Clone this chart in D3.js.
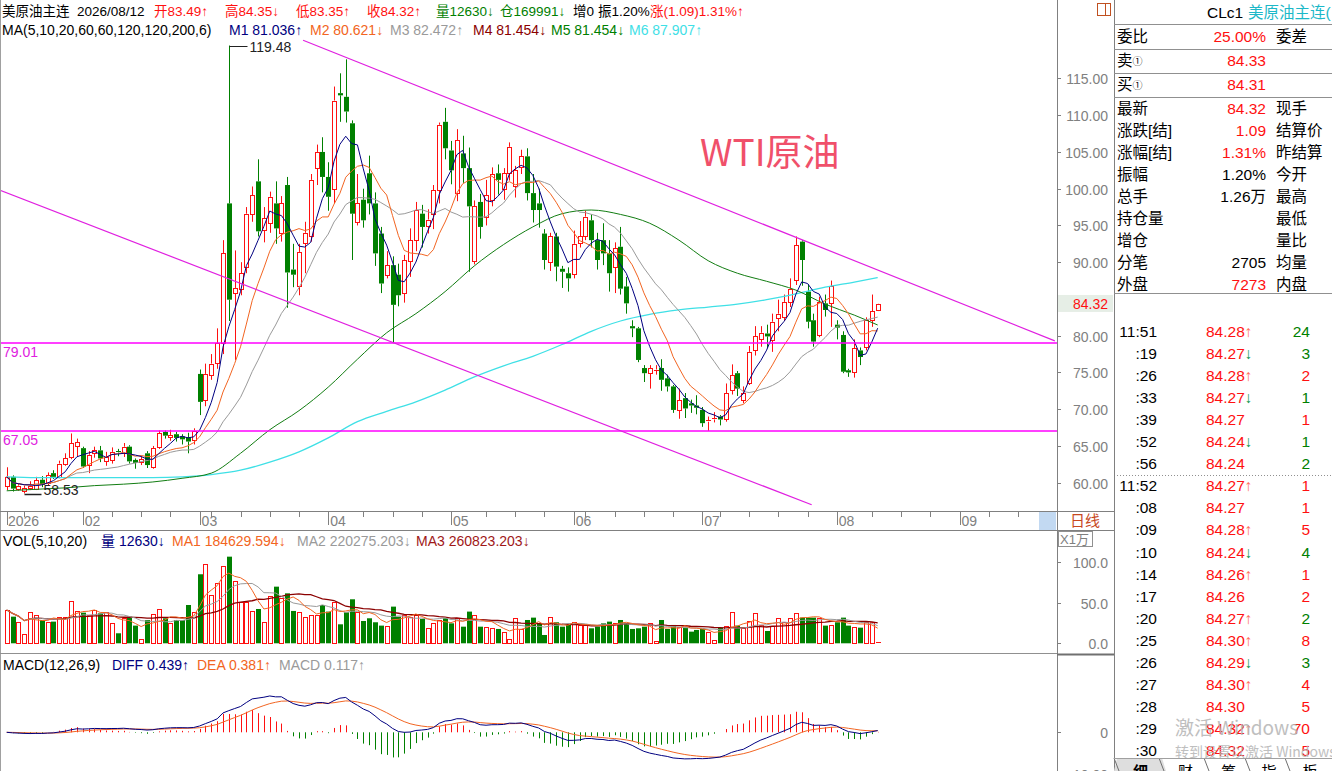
<!DOCTYPE html>
<html>
<head>
<meta charset="utf-8">
<script src="https://cdn.jsdelivr.net/npm/d3@7"></script>
<style>
    body {margin: 0; background: #fff; overflow: hidden;}
    svg {display: block; font-family: "Liberation Sans", "Noto Sans CJK SC", sans-serif;}
</style>
</head>
<body>
<div id="chart"></div>
<script>

// daily bars, mid Jan 2026 .. 2026/08/12
const opens = [
    59.5, 60.8, 59.2, 58.9, 59.3, 59.2, 60.4, 59.9, 61.3, 60.8,
    62.6, 63.5, 65.0, 64.7, 62.4, 64.0, 64.4, 62.9, 63.1, 64.3,
    64.0, 64.9, 63.1, 62.8, 64.0, 62.2, 64.9, 66.9, 66.2, 66.6,
    66.3, 66.2, 65.8, 74.8, 71.2, 74.7, 76.3, 79.0, 98.0, 85.8,
    86.4, 89.4, 96.6, 101.0, 94.4, 95.3, 98.0, 94.0, 100.5, 89.0,
    86.7, 92.6, 93.5, 102.8, 105.0, 101.6, 100.0, 113.0, 112.5, 108.9,
    95.5, 98.5, 102.1, 98.0, 93.9, 88.3, 89.6, 88.3, 85.8, 90.1,
    93.0, 96.6, 94.9, 96.6, 99.8, 109.1, 105.2, 99.4, 104.8, 102.8,
    90.1, 98.2, 96.2, 98.5, 102.1, 100.0, 102.1, 100.3, 103.0, 104.4,
    99.4, 98.0, 93.9, 90.0, 93.5, 89.1, 88.5, 88.4, 92.6, 93.5,
    95.7, 93.0, 93.0, 91.2, 89.3, 92.1, 86.7, 81.3, 81.0, 75.6,
    74.9, 75.2, 75.6, 74.2, 73.1, 69.9, 71.5, 70.8, 70.5, 69.9,
    68.3, 68.6, 69.0, 68.7, 72.6, 74.9, 71.3, 73.5, 78.0, 79.6,
    80.3, 79.4, 82.4, 82.6, 84.6, 87.6, 92.8, 86.0, 82.1, 80.1,
    84.4, 84.4, 81.5, 80.1, 75.3, 75.1, 78.0, 78.5, 82.1, 83.49
];
const highs = [
    62.1, 61.0, 59.9, 59.6, 60.2, 60.8, 60.9, 61.4, 61.7, 63.0,
    64.0, 66.7, 66.0, 64.9, 64.3, 64.9, 65.0, 64.2, 64.8, 64.6,
    65.4, 65.1, 63.3, 63.6, 64.3, 65.0, 67.1, 67.1, 67.2, 66.9,
    66.6, 66.8, 67.4, 75.4, 76.2, 77.5, 81.0, 93.0, 119.48, 91.6,
    90.0, 97.5, 100.3, 104.0, 97.5, 99.6, 101.0, 99.0, 101.6, 92.5,
    92.5, 95.5, 102.0, 106.0, 107.0, 103.6, 113.9, 115.7, 117.6, 109.3,
    102.0, 100.0, 104.5, 99.5, 94.8, 91.5, 90.8, 89.8, 91.0, 94.6,
    98.2, 97.8, 97.2, 100.5, 109.0, 111.0, 106.5, 108.1, 107.2, 105.6,
    98.4, 99.3, 101.2, 102.9, 103.3, 102.8, 106.3, 103.1, 105.3, 105.5,
    102.0, 100.0, 94.5, 94.0, 94.0, 89.5, 89.3, 94.3, 95.6, 97.0,
    96.5, 94.0, 95.3, 93.0, 92.7, 94.8, 88.0, 82.1, 81.2, 76.0,
    76.0, 76.0, 76.8, 74.7, 73.3, 72.8, 72.2, 71.3, 71.9, 70.3,
    69.0, 69.6, 69.2, 73.5, 76.1, 75.2, 73.1, 78.6, 81.3, 81.3,
    81.5, 83.0, 84.9, 85.6, 87.8, 93.5, 93.0, 87.0, 83.0, 85.3,
    85.6, 87.5, 82.1, 80.6, 75.5, 79.5, 78.4, 82.5, 85.6, 84.35
];
const lows = [
    59.0, 58.8, 58.9, 58.53, 59.0, 59.0, 59.4, 59.6, 60.5, 60.6,
    62.3, 63.2, 63.5, 62.0, 61.3, 63.4, 62.8, 62.3, 62.6, 63.6,
    63.5, 62.6, 61.9, 62.4, 62.0, 61.9, 64.6, 66.0, 65.7, 65.6,
    65.2, 64.0, 65.2, 69.2, 70.4, 74.0, 75.5, 77.5, 82.0, 76.7,
    85.5, 88.5, 95.5, 93.5, 92.7, 94.0, 92.5, 92.8, 83.8, 86.6,
    85.5, 88.5, 92.8, 100.5, 99.5, 97.0, 98.0, 109.1, 109.0, 90.3,
    95.0, 94.7, 96.5, 89.5, 85.8, 87.8, 79.0, 84.0, 84.5, 88.0,
    91.5, 92.0, 93.9, 94.5, 98.0, 104.0, 100.6, 98.3, 100.8, 88.7,
    89.7, 93.2, 95.0, 97.6, 99.2, 98.5, 101.1, 98.8, 102.0, 98.4,
    95.4, 94.7, 89.0, 88.8, 87.4, 86.5, 86.0, 87.8, 92.0, 93.0,
    92.0, 89.0, 89.6, 86.0, 85.8, 85.6, 83.0, 79.8, 76.4, 73.7,
    72.8, 74.7, 72.5, 72.4, 69.5, 68.7, 68.8, 69.5, 69.3, 67.6,
    67.05, 68.2, 67.8, 68.3, 72.0, 71.8, 70.8, 73.3, 77.3, 78.5,
    78.3, 77.8, 80.6, 82.0, 83.9, 86.9, 86.8, 81.0, 78.5, 79.8,
    82.6, 81.2, 79.5, 74.9, 74.4, 74.3, 76.0, 78.0, 81.2, 83.35
];
const closes = [
    60.8, 59.2, 59.6, 59.3, 59.6, 60.3, 59.7, 61.0, 60.8, 62.6,
    63.3, 65.4, 65.5, 62.2, 63.8, 64.4, 63.3, 63.5, 64.2, 64.1,
    64.9, 62.9, 62.7, 63.2, 62.4, 64.7, 66.7, 66.4, 66.5, 66.1,
    65.9, 65.6, 67.1, 71.0, 74.8, 76.2, 79.0, 91.2, 84.9, 86.5,
    88.5, 96.6, 99.1, 94.2, 96.0, 98.9, 94.6, 98.0, 88.6, 88.3,
    91.4, 94.0, 101.2, 105.0, 101.6, 98.9, 112.0, 112.7, 110.5, 96.6,
    98.0, 95.7, 98.0, 91.2, 87.1, 89.6, 84.2, 85.5, 90.3, 93.0,
    97.1, 94.8, 95.8, 99.8, 108.7, 105.5, 102.5, 106.6, 102.8, 97.6,
    97.6, 94.8, 99.1, 102.0, 101.2, 102.1, 105.7, 102.5, 104.4, 99.4,
    97.1, 97.1, 90.3, 93.5, 89.4, 88.7, 87.8, 92.5, 93.5, 96.2,
    93.0, 90.3, 91.2, 88.5, 91.9, 86.4, 84.4, 81.0, 76.7, 74.9,
    75.6, 75.4, 74.0, 73.1, 69.9, 71.2, 70.1, 70.5, 70.2, 68.1,
    68.5, 68.8, 68.6, 72.2, 74.6, 72.8, 72.2, 77.8, 79.9, 80.4,
    79.9, 81.9, 83.0, 84.6, 86.4, 92.3, 90.3, 81.9, 79.2, 84.6,
    83.5, 86.7, 81.1, 75.1, 75.0, 78.3, 77.1, 82.1, 83.3, 84.32
];
// volume in 万 (x10000)
const volumes = [
    40.9, 32.7, 26.6, 11.0, 38.9, 34.8, 28.6, 26.6, 26.6, 32.7,
    32.7, 52.0, 39.7, 37.6, 34.8, 40.5, 36.8, 38.9, 24.5, 12.3,
    30.7, 32.7, 21.7, 5.3, 28.6, 36.0, 42.1, 30.7, 24.5, 28.6,
    28.6, 47.0, 38.9, 84.7, 96.9, 59.3, 73.6, 94.9, 106.3, 76.5,
    51.1, 51.1, 39.7, 42.1, 26.6, 58.5, 69.5, 55.2, 61.3, 39.7,
    38.0, 32.7, 34.8, 34.8, 47.0, 38.9, 51.1, 23.3, 38.0, 54.0,
    38.9, 27.4, 30.7, 25.8, 21.7, 21.7, 45.0, 32.7, 34.8, 32.7,
    34.8, 29.9, 18.4, 24.5, 28.6, 30.7, 24.5, 30.7, 20.4, 38.9,
    34.8, 20.4, 20.4, 18.4, 17.6, 14.3, 5.3, 30.7, 17.6, 28.6,
    31.5, 24.5, 10.2, 31.9, 25.8, 20.4, 22.5, 26.6, 22.5, 22.5,
    18.4, 20.4, 24.5, 26.6, 24.5, 28.6, 24.5, 17.6, 18.4, 20.4,
    24.5, 2.9, 28.6, 17.6, 22.5, 20.4, 19.2, 14.3, 16.4, 17.6,
    14.3, 4.1, 19.2, 21.7, 38.9, 21.7, 18.4, 27.4, 36.8, 22.5,
    15.1, 21.7, 30.7, 26.6, 31.5, 36.8, 31.5, 31.5, 31.5, 30.7,
    21.7, 22.5, 25.8, 31.5, 21.7, 20.4, 19.2, 25.8, 25.8, 1.263
];

// month marks on the date axis (bar index of first day)
const monthIdx = [0, 13, 33, 55, 76, 97, 119, 142, 163];
const monthLabels = ["2026", "02", "03", "04", "05", "06", "07", "08", "09"];

// long averages (need history before the window)
const longIdx = [0, 5, 10, 15, 20, 25, 30, 35, 40, 45, 50, 55, 60, 65, 70, 75, 80, 85, 90, 95, 100, 105, 110, 115, 120, 125, 130, 135, 140, 145, 149];
const ma60Vals = [58.9, 59.1, 59.3, 59.6, 59.8, 60.1, 60.6, 61.3, 64.0, 67.2, 69.8, 73.0, 76.8, 80.4, 83.0, 86.0, 89.5, 92.4, 94.8, 96.6, 97.1, 96.5, 95.3, 93.0, 90.2, 88.5, 87.4, 86.2, 84.3, 82.8, 81.454];
const ma200Vals = [60.8, 60.7, 60.7, 60.7, 60.7, 60.7, 60.8, 61.1, 61.7, 62.8, 64.2, 66.1, 68.3, 69.7, 71.0, 72.6, 74.4, 75.9, 77.2, 78.8, 80.6, 82.0, 82.9, 83.5, 83.9, 84.3, 84.9, 85.7, 86.6, 87.3, 87.907];

// drawn lines: support levels and the two channel lines ([bar index, price])
const levels = [79.01, 67.05];
const trendLines = [
    [[50.7, 120.2], [179.3, 79.3]],
    [[-1.15, 99.8], [137.7, 57.0]]
];

const priceTicks = [60, 65, 70, 75, 80, 85, 90, 95, 100, 105, 110, 115];
const volTicks = [0, 50, 100];
const macdTicks = [0, -10];

// header texts
const headRow1 = ["美原油主连", "2026/08/12", "开83.49↑", "高84.35↓", "低83.35↑", "收84.32↑", "量12630↓", "仓169991↓", "增0", "振1.20%", "涨(1.09)1.31%↑"];
const headRow2 = ["MA(5,10,20,60,60,120,120,200,6)", "M1 81.036↑", "M2 80.621↓", "M3 82.472↑", "M4 81.454↓", "M5 81.454↓", "M6 87.907↑"];
const volHead = ["VOL(5,10,20)", "量 12630↓", "MA1 184629.594↓", "MA2 220275.203↓", "MA3 260823.203↓"];
const macdHead = ["MACD(12,26,9)", "DIFF 0.439↑", "DEA 0.381↑", "MACD 0.117↑"];

// quote panel
const quoteTop = [["委比", "25.00%", "委差"], ["卖", "84.33", ""], ["买", "84.31", ""]];
const quoteLabels = ["最新", "涨跌[结]", "涨幅[结]", "振幅", "总手", "持仓量", "增仓", "分笔", "外盘"];
const quoteValues = ["84.32", "1.09", "1.31%", "1.20%", "1.26万", "", "", "2705", "7273"];
const quoteValueUp = [1, 1, 1, 0, 0, 0, 0, 0, 1];
const quoteRight = ["现手", "结算价", "昨结算", "今开", "最高", "最低", "量比", "均量", "内盘"];

// tick-by-tick list
const tickTimes = ["11:51", ":19", ":26", ":33", ":39", ":52", ":56", "11:52", ":08", ":09", ":10", ":14", ":17", ":20", ":25", ":26", ":27", ":28", ":29", ":30"];
const tickPrices = ["84.28", "84.27", "84.28", "84.27", "84.27", "84.24", "84.24", "84.27", "84.27", "84.28", "84.24", "84.26", "84.26", "84.27", "84.30", "84.29", "84.30", "84.30", "84.32", "84.32"];
const tickArrows = ["↑", "↓", "↑", "↓", "", "↓", "", "↑", "", "↑", "↓", "↑", "", "↑", "↑", "↓", "↑", "", "↑", ""];
const tickVols = [24, 3, 2, 1, 1, 1, 2, 1, 1, 5, 4, 1, 2, 2, 8, 3, 4, 5, 70, 5];
const tickVolUp = [0, 0, 1, 0, 1, 0, 0, 1, 1, 1, 0, 1, 1, 0, 1, 0, 1, 1, 1, 1];
const tabs = ["细", "财", "筹", "指", "板"];

const RED = "#ff1010", GREEN = "#008000", NAVY = "#000080", ORANGE = "#f26522",
    GRAY = "#9a9a9a", DARKRED = "#8b0000", CYAN = "#3fe0e6", MAGENTA = "#ff00ff", AXIS = "#808080";

class KChart {

    constructor(parentElement) {
        this.parentElement = parentElement;
        this.initVis();
    }

    initVis() {
        let vis = this;
        vis.width = 1332;
        vis.height = 771;
        vis.axisLeft = 1057;
        vis.sideLeft = 1114;

        vis.svg = d3.select("#" + vis.parentElement).append("svg")
            .attr("width", vis.width)
            .attr("height", vis.height);

        //scales, one x for all three panels
        vis.x = d3.scaleLinear().domain([0, closes.length - 1]).range([6.7, 877.7]);
        vis.y = d3.scaleLinear().domain([60, 115]).range([482.7, 78.45]);
        vis.yVol = d3.scaleLinear().domain([0, 100]).range([643.3, 561.8]);
        vis.yMacd = d3.scaleLinear().domain([-10, 0]).range([774, 732.3]);

        vis.svg.append("clipPath").attr("id", "priceClip")
            .append("rect").attr("x", 1).attr("y", 0).attr("width", vis.axisLeft - 1).attr("height", 511);

        vis.wrangleData();
        vis.drawFrame();
        vis.drawPrice();
        vis.drawVolume();
        vis.drawMacd();
        vis.drawSide();
    }

    wrangleData() {
        let vis = this;
        const sma = (arr, n) => arr.map((d, i) => d3.mean(arr.slice(Math.max(0, i - n + 1), i + 1)));
        vis.ma5 = sma(closes, 5);
        vis.ma10 = sma(closes, 10);
        vis.ma20 = sma(closes, 20);
        vis.vma5 = sma(volumes, 5);
        vis.vma10 = sma(volumes, 10);
        vis.vma20 = sma(volumes, 20);

        //macd 12,26,9
        let e12 = closes[0], e26 = closes[0], dea = 0;
        vis.diff = []; vis.dea = []; vis.macd = [];
        closes.forEach(c => {
            e12 = e12 * 11 / 13 + c * 2 / 13;
            e26 = e26 * 25 / 27 + c * 2 / 27;
            let dif = e12 - e26;
            dea = dea * 8 / 10 + dif * 2 / 10;
            vis.diff.push(dif);
            vis.dea.push(dea);
            vis.macd.push(2 * (dif - dea));
        });
    }

    drawFrame() {
        let vis = this;
        let g = vis.svg.append("g").attr("class", "frame");
        g.append("line").attr("x1", 0.5).attr("x2", 0.5).attr("y1", 0).attr("y2", vis.height).attr("stroke", "#a0a0a0");
        g.append("line").attr("x1", vis.axisLeft + 0.5).attr("x2", vis.axisLeft + 0.5).attr("y1", 0).attr("y2", vis.height).attr("stroke", "#808080");
        g.append("line").attr("x1", vis.sideLeft + 0.5).attr("x2", vis.sideLeft + 0.5).attr("y1", 0).attr("y2", vis.height).attr("stroke", "#808080");
        [511.5, 530.5].forEach(yy => {
            g.append("line").attr("x1", 0).attr("x2", vis.sideLeft).attr("y1", yy).attr("y2", yy).attr("stroke", "#808080");
        });
        g.append("line").attr("x1", 0).attr("x2", vis.axisLeft).attr("y1", 653.5).attr("y2", 653.5).attr("stroke", "#909090");
        g.append("line").attr("x1", vis.axisLeft).attr("x2", vis.sideLeft).attr("y1", 654.5).attr("y2", 654.5).attr("stroke", "#707070").attr("stroke-width", 2);

        //date axis
        let ticks = [];
        monthIdx.forEach((m, k) => {
            ticks.push({i: m, long: true});
            let next = k < monthIdx.length - 1 ? monthIdx[k + 1] : m + 17;
            let prev = k > 0 ? monthIdx[k - 1] : -1;
            for (let t = m - 5; t > prev + 1 && t > 1; t -= 5) ticks.push({i: t, long: false});
            if (k === monthIdx.length - 1) for (let t = m + 5; t < next; t += 5) ticks.push({i: t, long: false});
        });
        g.selectAll(".dtick").data(ticks).join("line")
            .attr("x1", d => Math.round(vis.x(d.i)) + 0.5)
            .attr("x2", d => Math.round(vis.x(d.i)) + 0.5)
            .attr("y1", 511.5)
            .attr("y2", d => d.long ? 525 : 517)
            .attr("stroke", "#808080");
        g.selectAll(".dlabel").data(monthLabels).join("text")
            .attr("x", (d, k) => k === 0 ? 8 : vis.x(monthIdx[k]) + 2)
            .attr("y", 526)
            .attr("font-size", 14)
            .attr("fill", AXIS)
            .text(d => d);

        g.append("rect").attr("x", 1039).attr("y", 512).attr("width", 17).attr("height", 18).attr("fill", "#c2d9f2");
        g.append("text").attr("x", 1070).attr("y", 526).attr("font-size", 15).attr("fill", "#c8481e")
            .attr("font-family", "Noto Sans CJK SC").text("日线");
        g.append("rect").attr("x", 1058.5).attr("y", 531.5).attr("width", 34).attr("height", 15)
            .attr("fill", "none").attr("stroke", "#909090");
        g.append("text").attr("x", 1060).attr("y", 544).attr("font-size", 13).attr("fill", AXIS).text("X1万");

        //little icon top of axis column
        g.append("rect").attr("x", 1097.5).attr("y", 3.5).attr("width", 13).attr("height", 12).attr("fill", "none").attr("stroke", "#c05020");
        g.append("line").attr("x1", 1105.5).attr("x2", 1105.5).attr("y1", 3.5).attr("y2", 15.5).attr("stroke", "#c05020");

        //axis labels right side
        const axisLabels = (ticks, scale, fmt) => {
            ticks.forEach(t => {
                let yy = Math.round(scale(t)) + 0.5;
                g.append("line").attr("x1", vis.axisLeft).attr("x2", vis.axisLeft + 4).attr("y1", yy).attr("y2", yy).attr("stroke", "#808080");
                g.append("text").attr("x", 1108).attr("y", yy + 5).attr("text-anchor", "end")
                    .attr("font-size", 14).attr("fill", AXIS).text(fmt(t));
            });
        };
        axisLabels(priceTicks, vis.y, d3.format(".2f"));
        axisLabels(volTicks, vis.yVol, d3.format(".1f"));
        axisLabels(macdTicks, vis.yMacd, t => t === 0 ? "0" : d3.format(".2f")(t));

        //last price tag
        let ly = vis.y(closes[closes.length - 1]);
        g.append("rect").attr("x", 1058).attr("y", ly - 9).attr("width", 55).attr("height", 17).attr("fill", "#e6eee6");
        g.append("text").attr("x", 1108).attr("y", ly + 5).attr("text-anchor", "end")
            .attr("font-size", 14).attr("fill", RED).text(d3.format(".2f")(closes[closes.length - 1]));
    }

    drawCandles(g, scale, isVolume) {
        let vis = this;
        closes.forEach((c, i) => {
            let cx = Math.round(vis.x(i)) + 0.5;
            let up = c >= opens[i];
            let col = up ? RED : GREEN;
            let top, bot;
            if (isVolume) {
                top = scale(volumes[i]);
                bot = scale(0);
            } else {
                top = scale(Math.max(opens[i], c));
                bot = scale(Math.min(opens[i], c));
                g.append("line").attr("x1", cx).attr("x2", cx)
                    .attr("y1", scale(highs[i])).attr("y2", top).attr("stroke", col);
                g.append("line").attr("x1", cx).attr("x2", cx)
                    .attr("y1", bot).attr("y2", scale(lows[i])).attr("stroke", col);
            }
            if (bot - top < 1.5) {
                g.append("line").attr("x1", cx - 2.5).attr("x2", cx + 2.5)
                    .attr("y1", Math.round(top) + 0.5).attr("y2", Math.round(top) + 0.5).attr("stroke", col);
            } else if (up) {
                g.append("rect").attr("x", cx - 2).attr("y", Math.round(top) + 0.5)
                    .attr("width", 4).attr("height", Math.round(bot) - Math.round(top))
                    .attr("fill", "#fff").attr("stroke", col);
            } else {
                g.append("rect").attr("x", cx - 2.5).attr("y", top)
                    .attr("width", 5).attr("height", bot - top)
                    .attr("fill", col);
            }
        });
    }

    drawPrice() {
        let vis = this;
        let g = vis.svg.append("g").attr("class", "price").attr("clip-path", "url(#priceClip)");
        let line = d3.line().x((d, i) => vis.x(i)).y(d => vis.y(d));
        let sampled = d3.line().curve(d3.curveMonotoneX).x(d => vis.x(d[0])).y(d => vis.y(d[1]));

        vis.drawCandles(g, vis.y, false);

        g.append("path").attr("d", sampled(longIdx.map((d, k) => [d, ma200Vals[k]])))
            .attr("fill", "none").attr("stroke", CYAN).attr("stroke-width", 1.3);
        g.append("path").attr("d", sampled(longIdx.map((d, k) => [d, ma60Vals[k]])))
            .attr("fill", "none").attr("stroke", "#127d12").attr("stroke-width", 1);
        [[vis.ma20, GRAY], [vis.ma10, ORANGE], [vis.ma5, NAVY]].forEach(([arr, col]) => {
            g.append("path").attr("d", line(arr)).attr("fill", "none").attr("stroke", col).attr("stroke-width", 1);
        });

        //levels and channel
        levels.forEach(l => {
            let yy = Math.round(vis.y(l));
            g.append("path").attr("d", `M1,${yy}H${vis.axisLeft}`)
                .attr("stroke", MAGENTA).attr("stroke-width", 1.6).attr("fill", "none");
            g.append("text").attr("x", 3).attr("y", yy + 14).attr("font-size", 14)
                .attr("fill", "#e020e0").text(d3.format(".2f")(l));
        });
        trendLines.forEach(tl => {
            g.append("line")
                .attr("x1", vis.x(tl[0][0])).attr("y1", vis.y(tl[0][1]))
                .attr("x2", vis.x(tl[1][0])).attr("y2", vis.y(tl[1][1]))
                .attr("stroke", "#e020e0").attr("stroke-width", 1.2);
        });

        //high / low marks
        let hi = d3.maxIndex(highs), lo = d3.minIndex(lows);
        let hx = Math.round(vis.x(hi)) + 0.5, hy = Math.round(vis.y(highs[hi])) + 0.5;
        g.append("line").attr("x1", hx).attr("x2", hx + 18).attr("y1", hy).attr("y2", hy).attr("stroke", "#222");
        g.append("text").attr("x", hx + 20).attr("y", hy + 5).attr("font-size", 14).attr("fill", "#222").text(d3.format(".2f")(highs[hi]));
        let lx = Math.round(vis.x(lo)) + 0.5, lyy = Math.round(vis.y(lows[lo])) + 0.5;
        g.append("line").attr("x1", lx).attr("x2", lx + 17).attr("y1", lyy).attr("y2", lyy).attr("stroke", "#222").attr("stroke-width", 1.5);
        g.append("text").attr("x", lx + 19).attr("y", lyy + 0).attr("font-size", 14).attr("fill", "#222").text(d3.format(".2f")(lows[lo]));

        //title
        vis.svg.append("text").attr("x", 700).attr("y", 166).attr("font-size", 37)
            .attr("font-family", "Noto Sans CJK SC").attr("fill", "#f0506a").text("WTI原油");

        //header rows
        const row1X = [2, 77, 154, 225, 296, 367, 436, 500, 573, 598, 650];
        const row1C = ["#000", "#000", RED, RED, RED, RED, GREEN, GREEN, "#000", "#000", RED];
        vis.header(headRow1, row1X, row1C, 16, 13.5);
        const row2X = [2, 229, 310, 390, 473, 551, 629];
        const row2C = ["#000", NAVY, ORANGE, GRAY, DARKRED, GREEN, CYAN];
        vis.header(headRow2, row2X, row2C, 35);
    }

    header(texts, xs, cols, yy, size = 14) {
        let vis = this;
        vis.svg.append("g").selectAll("text").data(texts).join("text")
            .attr("x", (d, k) => xs[k]).attr("y", yy)
            .attr("font-size", size)
            .attr("fill", (d, k) => cols[k])
            .text(d => d);
    }

    drawVolume() {
        let vis = this;
        let g = vis.svg.append("g").attr("class", "volume");
        vis.drawCandles(g, vis.yVol, true);
        let line = d3.line().x((d, i) => vis.x(i)).y(d => vis.yVol(d));
        [[vis.vma20, DARKRED, 1.3], [vis.vma10, GRAY, 1], [vis.vma5, ORANGE, 1]].forEach(([arr, col, w]) => {
            g.append("path").attr("d", line(arr)).attr("fill", "none").attr("stroke", col).attr("stroke-width", w);
        });
        vis.header(volHead, [3, 101, 172, 297, 416], ["#000", NAVY, ORANGE, GRAY, "#a01818"], 546);
    }

    drawMacd() {
        let vis = this;
        let g = vis.svg.append("g").attr("class", "macd");
        let zero = vis.yMacd(0);
        vis.macd.forEach((m, i) => {
            let cx = Math.round(vis.x(i)) + 0.5;
            g.append("line").attr("x1", cx).attr("x2", cx)
                .attr("y1", zero).attr("y2", vis.yMacd(m))
                .attr("stroke", m >= 0 ? RED : GREEN);
        });
        let line = d3.line().x((d, i) => vis.x(i)).y(d => vis.yMacd(d));
        g.append("path").attr("d", line(vis.dea)).attr("fill", "none").attr("stroke", ORANGE);
        g.append("path").attr("d", line(vis.diff)).attr("fill", "none").attr("stroke", NAVY);
        vis.header(macdHead, [3, 112, 197, 279], ["#000", NAVY, ORANGE, GRAY], 670);
    }

    drawSide() {
        let vis = this;
        let g = vis.svg.append("g").attr("class", "side").attr("font-size", 15.5);
        let L = vis.sideLeft;
        [24.5, 49.5, 73.5, 97.5, 293.5].forEach(yy => {
            g.append("line").attr("x1", L).attr("x2", vis.width).attr("y1", yy).attr("y2", yy).attr("stroke", "#909090");
        });
        g.append("text").attr("x", 1207).attr("y", 18).attr("fill", "#000").text("CLc1");
        g.append("text").attr("x", 1248).attr("y", 18).attr("fill", "#1cb8c8").text("美原油主连(");

        quoteTop.forEach((r, k) => {
            let yy = [42, 66, 90][k];
            let t = g.append("text").attr("x", L + 3).attr("y", yy).attr("fill", "#000").text(r[0]);
            if (k > 0) t.append("tspan").attr("font-size", 10).attr("dy", -1).text("①");
            g.append("text").attr("x", 1266).attr("y", yy).attr("text-anchor", "end").attr("fill", RED).text(r[1]);
            g.append("text").attr("x", 1276).attr("y", yy).attr("fill", "#000").text(r[2]);
        });
        quoteLabels.forEach((lab, k) => {
            let yy = 113.5 + k * 22.1;
            g.append("text").attr("x", L + 3).attr("y", yy).attr("fill", "#000").text(lab);
            g.append("text").attr("x", 1266).attr("y", yy).attr("text-anchor", "end")
                .attr("fill", quoteValueUp[k] ? RED : "#000").text(quoteValues[k]);
            g.append("text").attr("x", 1276).attr("y", yy).attr("fill", "#000").text(quoteRight[k]);
        });

        //ticks list
        tickTimes.forEach((t, k) => {
            let yy = 337 + k * 22.05;
            g.append("text").attr("x", 1157).attr("y", yy).attr("text-anchor", "end").attr("fill", "#000").text(t);
            let p = g.append("text").attr("x", 1206).attr("y", yy).attr("fill", RED).text(tickPrices[k]);
            if (tickArrows[k]) p.append("tspan").attr("fill", tickArrows[k] === "↑" ? "#ff7060" : "#109850").text(tickArrows[k]);
            g.append("text").attr("x", 1310).attr("y", yy).attr("text-anchor", "end")
                .attr("fill", tickVolUp[k] ? RED : GREEN).text(tickVols[k]);
        });
        g.append("line").attr("x1", L + 3).attr("x2", vis.width).attr("y1", 475.5).attr("y2", 475.5)
            .attr("stroke", "#909090").attr("stroke-dasharray", "1,2");

        //windows watermark
        g.append("text").attr("x", 1175).attr("y", 735).attr("font-size", 19).attr("fill", "#b4b4b4").attr("opacity", 0.85)
            .attr("font-family", "Noto Sans CJK SC").text("激活 Windows");
        g.append("text").attr("x", 1175).attr("y", 757).attr("font-size", 14).attr("fill", "#b4b4b4").attr("opacity", 0.85)
            .attr("font-family", "Noto Sans CJK SC").text("转到设置以激活 Windows。");

        //bottom tabs
        const tabX = [1117, 1162, 1207, 1248, 1288, 1330];
        g.append("path").attr("d", `M${tabX[0]},758 L${tabX[1]},758 L${tabX[1] + 4},771 L${tabX[0] - 3},771 Z`).attr("fill", "#dedede");
        tabs.forEach((t, k) => {
            g.append("line").attr("x1", tabX[k] - 3).attr("x2", tabX[k] + 2).attr("y1", 758).attr("y2", 771).attr("stroke", "#707070");
            g.append("text").attr("x", (tabX[k] + tabX[k + 1]) / 2 + 1).attr("y", 777).attr("text-anchor", "middle")
                .attr("font-size", 15).attr("font-weight", k === 0 ? "bold" : "normal")
                .attr("font-family", "Noto Sans CJK SC").attr("fill", "#000").text(t);
        });
        g.append("line").attr("x1", L).attr("x2", vis.width).attr("y1", 758.5).attr("y2", 758.5).attr("stroke", "#a0a0a0");
    }
}

new KChart("chart");
</script>
</body>
</html>
